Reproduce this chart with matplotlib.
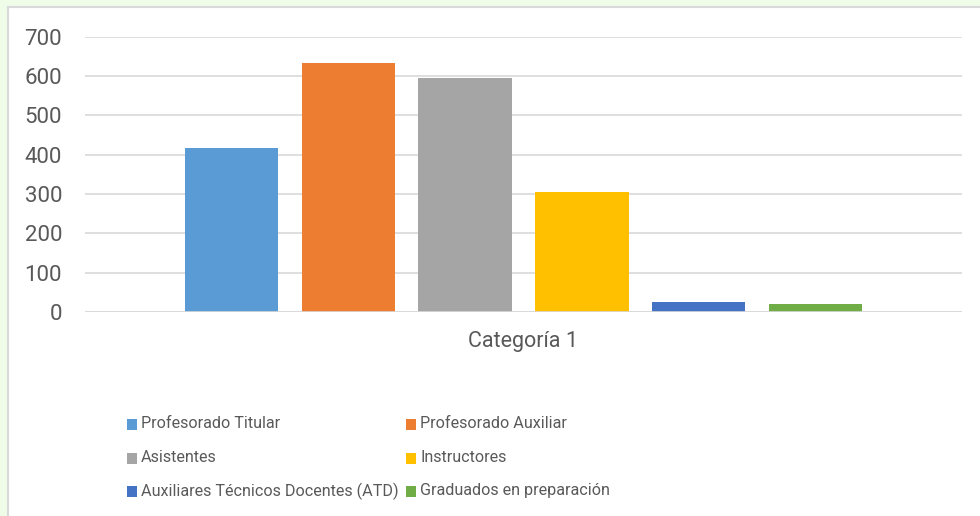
import matplotlib
matplotlib.use('Agg')
import matplotlib.pyplot as plt
from matplotlib.patches import Rectangle

# data
categoria = 'Categoría 1'
series = ['Profesorado Titular', 'Profesorado Auxiliar', 'Asistentes',
          'Instructores', 'Auxiliares Técnicos Docentes (ATD)', 'Graduados en preparación']
valores = [417, 633, 595, 305, 25, 20]
colores = ['#5B9BD5', '#ED7D31', '#A5A5A5', '#FFC000', '#4472C4', '#70AD47']

plt.rcParams['font.family'] = ['Roboto', 'DejaVu Sans']
txt = '#595959'
W, H = 980, 516

fig = plt.figure(figsize=(W / 100, H / 100), dpi=100)
fig.patch.set_facecolor('#EEFCE8')

# white chart area with thin gray frame
fig.patches.append(Rectangle((8 / W, -0.1), 1.1, 1 - 7 / H + 0.1, transform=fig.transFigure,
                             facecolor='white', edgecolor='#D9D9D9', linewidth=1.5, zorder=-5))

ax = fig.add_axes([85 / W, 1 - 312 / H, (962 - 85) / W, (312 - 36.7) / H])
ax.set_facecolor('none')
ax.set_zorder(2)

x = list(range(len(series)))
ax.bar(x, valores, width=0.795, color=colores, zorder=3)

ax.set_ylim(0, 700)
ax.set_yticks(range(0, 701, 100))
ax.set_xlim(2.5 - 3.748, 2.5 + 3.748)
ax.set_xticks([2.5])
ax.set_xticklabels([categoria])
ax.tick_params(length=0, colors=txt)
ax.tick_params(axis='y', pad=16.5, labelsize=16)
ax.tick_params(axis='x', pad=14, labelsize=15.5)
ax.grid(axis='y', color='#D9D9D9', linewidth=1.2, zorder=0)
for s in ax.spines.values():
    s.set_visible(False)
ax.axhline(0, color='#D9D9D9', linewidth=1.2, zorder=4)

# legend, two columns
col_x = [127, 406]
row_y = [424, 458, 491]
for i, (name, c) in enumerate(zip(series, colores)):
    cx = col_x[i % 2]
    cy = row_y[i // 2]
    fig.patches.append(Rectangle((cx / W, 1 - (cy + 6) / H), 10 / W, 11 / H,
                                 transform=fig.transFigure, facecolor=c, edgecolor='none'))
    fig.text((cx + 14) / W, 1 - cy / H, name, color=txt, fontsize=11.6, va='center', ha='left')

fig.savefig('out.png', dpi=100)
